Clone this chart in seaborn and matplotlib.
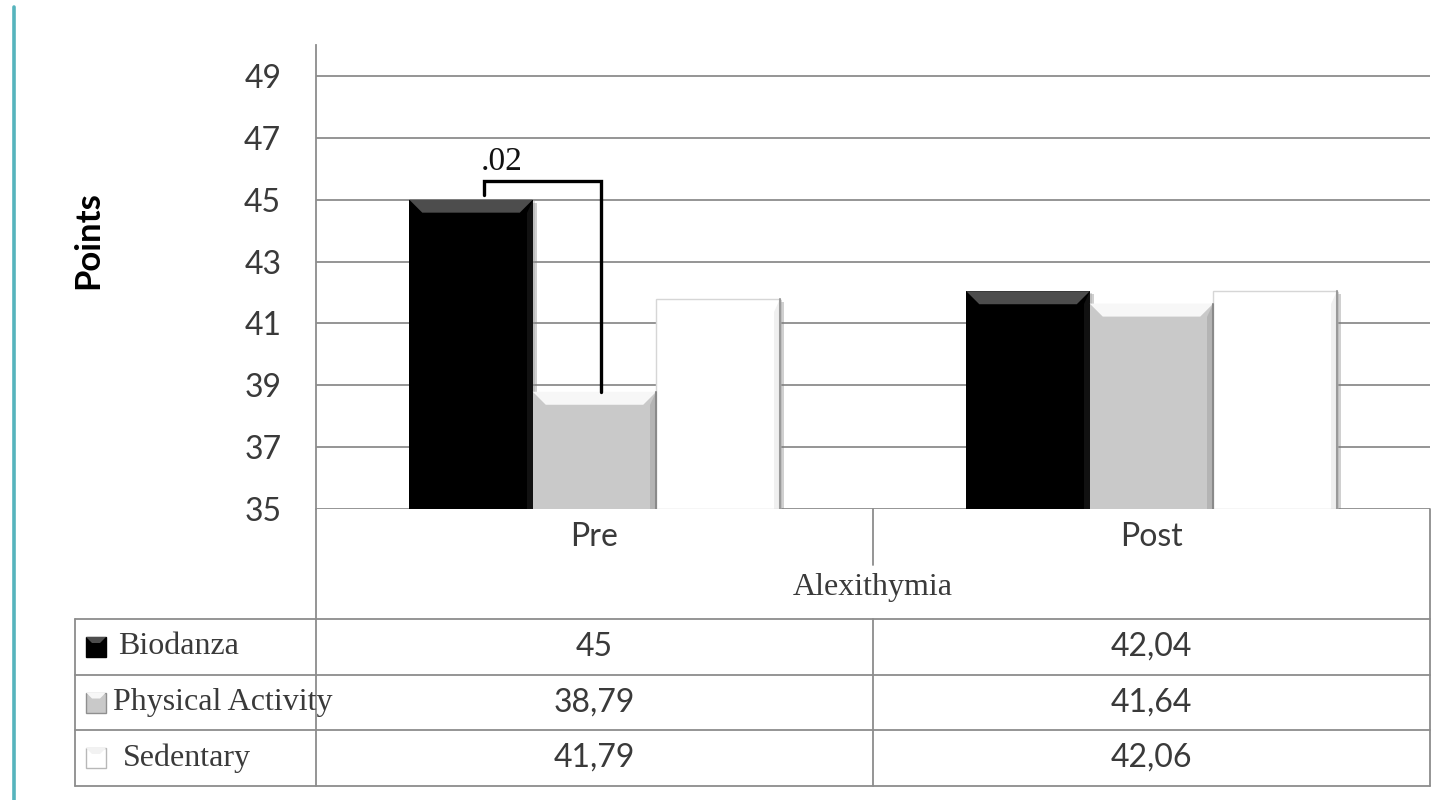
import numpy as np
import pandas as pd
import matplotlib
matplotlib.use("Agg")
import matplotlib.pyplot as plt
from matplotlib.patches import Rectangle, Polygon
from matplotlib.lines import Line2D
import seaborn as sns

# ---- data -------------------------------------------------------------
times = ["Pre", "Post"]
groups = ["Biodanza", "Physical Activity", "Sedentary"]
biodanza = [45.0, 42.04]
physical_activity = [38.79, 41.64]
sedentary = [41.79, 42.06]
y_ticks = [35, 37, 39, 41, 43, 45, 47, 49]
variable_label = "Alexithymia"
y_label = "Points"
p_value_label = ".02"

series = {"Biodanza": biodanza,
          "Physical Activity": physical_activity,
          "Sedentary": sedentary}
df = pd.DataFrame([(t, g, series[g][i]) for g in groups for i, t in enumerate(times)],
                  columns=["time", "group", "points"])

# ---- style ------------------------------------------------------------
sns.set_theme(style="white")
plt.rcParams["font.family"] = ["Lato", "DejaVu Sans"]
SERIF = ["Liberation Serif", "DejaVu Serif"]
GRID = "#8c8c8c"
TXT = "#3a3a3a"
SANS_SIZE = 23
SERIF_SIZE = 23
fills = {"Biodanza": "#000000", "Physical Activity": "#c9c9c9", "Sedentary": "#ffffff"}
tops = {"Biodanza": "#4d4d4d", "Physical Activity": "#f7f7f7", "Sedentary": "#ffffff"}
sides = {"Biodanza": "#111111", "Physical Activity": "#b4b4b4", "Sedentary": "#f0f0f0"}

W, H, DPI = 1448, 800, 100
fig = plt.figure(figsize=(W / DPI, H / DPI), dpi=DPI)
fig.patch.set_facecolor("white")

# plot area in pixel units
L, R, T, B = 316, 1430, 45, 509
ax = fig.add_axes([L / W, (H - B) / H, (R - L) / W, (B - T) / H])

sns.barplot(data=df, x="time", y="points", hue="group", order=times,
            hue_order=groups, palette=fills, width=0.665, gap=0,
            edgecolor="none", linewidth=0, legend=False, ax=ax, zorder=3)

ax.set_ylim(35, 50)
ax.set_xlim(-0.5, 1.5)
ax.set_yticks(y_ticks)
ax.set_yticklabels([str(t) for t in y_ticks], fontsize=SANS_SIZE, color=TXT)
ax.tick_params(axis="y", length=0, pad=25)
ax.set_xticks([])
ax.set_xlabel("")
ax.set_ylabel("")
ax.yaxis.grid(True, color=GRID, lw=1.3, zorder=0)
ax.set_axisbelow(True)
for s in ["top", "right", "bottom"]:
    ax.spines[s].set_visible(False)
ax.spines["left"].set_color(GRID)
ax.spines["left"].set_linewidth(1.3)

# data units per pixel
sx = 2.0 / (R - L)
sy = 15.0 / (B - T)

# bevel, side shading and soft drop shadow on each bar
bev = 13
for g, cont in zip(groups, ax.containers):
    for p in cont:
        x0, w, top = p.get_x(), p.get_width(), p.get_height()
        ax.add_patch(Rectangle((x0 + 4 * sx, 34), w, top - 34 - 3 * sy,
                               facecolor="#7a7a7a", alpha=0.35, lw=0, zorder=2.5))
        ax.add_patch(Rectangle((x0 + 2 * sx, 34), w, top - 34 - 1.5 * sy,
                               facecolor="#9a9a9a", alpha=0.35, lw=0, zorder=2.6))
        ax.add_patch(Polygon([(x0 + w, top), (x0 + w, 35), (x0 + w - 6 * sx, 35),
                              (x0 + w - 6 * sx, top - bev * sy)],
                             closed=True, facecolor=sides[g], lw=0, zorder=3.2))
        ax.add_patch(Polygon([(x0, top), (x0 + w, top),
                              (x0 + w - bev * sx, top - bev * sy),
                              (x0 + bev * sx, top - bev * sy)],
                             closed=True, facecolor=tops[g], lw=0, zorder=3.3))
        if g == "Sedentary":
            ax.add_patch(Rectangle((x0, 35), w, top - 35, facecolor="none",
                                   edgecolor="#d6d6d6", lw=1.0, zorder=3.4))
            ax.plot([x0 + w, x0 + w], [35, top], color="#9a9a9a", lw=1.5, zorder=3.5)
        if g == "Physical Activity":
            ax.plot([x0 + w, x0 + w], [35, top], color="#8a8a8a", lw=1.5, zorder=3.5)

# significance bracket between Biodanza and Physical Activity (Pre)
b_bar = ax.containers[0][0]
p_bar = ax.containers[1][0]
xl = b_bar.get_x() + b_bar.get_width() / 2 + 13 * sx
xr = p_bar.get_x() + p_bar.get_width() / 2 + 6 * sx
yh = b_bar.get_height() + 0.61
ax.plot([xl, xl, xr, xr], [b_bar.get_height() + 0.15, yh, yh, p_bar.get_height()],
        color="black", lw=2.4, solid_joinstyle="miter", zorder=6, clip_on=False)
ax.text(xl + 18 * sx, yh + 0.35, p_value_label, fontsize=24, family=SERIF,
        ha="center", va="baseline", color="#111111", zorder=6)

# ---- overlay in pixel coordinates: frame line, axis title, data table ----
ov = fig.add_axes([0, 0, 1, 1], zorder=5)
ov.set_xlim(0, W)
ov.set_ylim(H, 0)
ov.axis("off")
ov.patch.set_alpha(0)

ov.add_line(Line2D([14, 14], [7, 800], color="#56b4bd", lw=2.6))
ov.text(88, 240, y_label, rotation=90, fontsize=25, fontweight="bold",
        ha="center", va="center", color="black")

TL, TM = 75, 873
rows_y = [619, 675, 730, 786]
line_kw = dict(color=GRID, lw=1.3)
ov.add_line(Line2D([L, L], [B, rows_y[-1]], **line_kw))
ov.add_line(Line2D([R, R], [B, rows_y[-1]], **line_kw))
ov.add_line(Line2D([TM, TM], [B, 565], **line_kw))
ov.add_line(Line2D([TM, TM], [rows_y[0], rows_y[-1]], **line_kw))
ov.add_line(Line2D([TL, TL], [rows_y[0], rows_y[-1]], **line_kw))
for yy in rows_y:
    ov.add_line(Line2D([TL, R], [yy, yy], **line_kw))

col_centers = [(L + TM) / 2, (TM + R) / 2]
for cx, t in zip(col_centers, times):
    ov.text(cx, 537, t, fontsize=SANS_SIZE, ha="center", va="center", color=TXT)
ov.text(TM, 588, variable_label, fontsize=SERIF_SIZE, family=SERIF, ha="center",
        va="center", color=TXT)


def fmt(v):
    return f"{v:g}".replace(".", ",")


label_x = {"Biodanza": 118, "Physical Activity": 113, "Sedentary": 123}
swatch_edge = {"Biodanza": "#000000", "Physical Activity": "#8f8f8f",
               "Sedentary": "#b8b8b8"}
for i, g in enumerate(groups):
    cy = (rows_y[i] + rows_y[i + 1]) / 2
    ov.add_patch(Rectangle((86, cy - 10), 20, 20, facecolor=fills[g],
                           edgecolor=swatch_edge[g], lw=1.0))
    ov.add_patch(Polygon([(86, cy - 10), (106, cy - 10), (100, cy - 4), (92, cy - 4)],
                         closed=True, facecolor=tops[g] if g != "Sedentary" else "#f2f2f2",
                         lw=0))
    ov.text(label_x[g], cy, g, fontsize=SERIF_SIZE, family=SERIF, ha="left",
            va="center", color=TXT)
    for cx, v in zip(col_centers, series[g]):
        ov.text(cx, cy, fmt(v), fontsize=SANS_SIZE, ha="center", va="center", color=TXT)

fig.savefig("out.png", dpi=DPI, facecolor="white")
